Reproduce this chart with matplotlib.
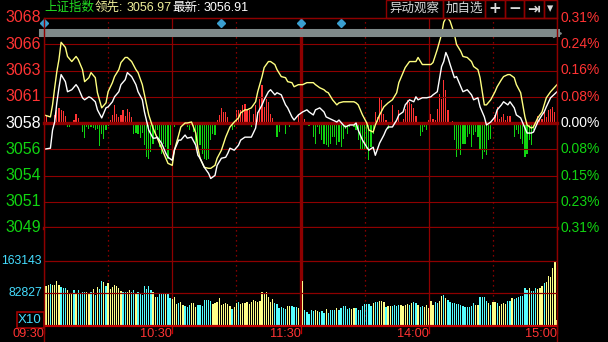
import matplotlib
matplotlib.use('Agg')
import matplotlib.pyplot as plt
from matplotlib.lines import Line2D
from matplotlib.patches import Rectangle

plt.rcParams['font.family'] = ['Liberation Sans', 'Noto Sans CJK SC', 'DejaVu Sans']

# ---- data (minutes after 09:30, 11:30 and 13:00 share minute 120) ----
minutes = [0, 3, 4, 5, 6, 7, 8, 10, 11, 13, 15, 16, 18, 19, 21, 22, 24, 25, 27, 29,
           30, 32, 33, 35, 36, 38, 39, 41, 43, 44, 46, 47, 49, 51, 52, 53, 55, 57, 58, 60,
           61, 63, 64, 66, 67, 69, 71, 72, 73, 75, 77, 78, 80, 81, 83, 85, 86, 87, 89, 91,
           92, 94, 95, 97, 99, 100, 102, 103, 105, 106, 108, 109, 111, 113, 114, 116, 117, 119,
           121, 123, 124, 126, 127, 129, 131, 132, 133, 135, 137, 138, 140, 141, 143, 145, 146,
           147, 149, 151, 152, 154, 155, 157, 159, 160, 161, 163, 165, 166, 168, 169, 171, 173,
           174, 175, 177, 179, 181, 182, 184, 186, 187, 188, 189, 190, 192, 193, 195, 196, 198,
           200, 201, 203, 204, 206, 207, 209, 211, 212, 214, 215, 217, 218, 220, 221, 223, 225,
           226, 228, 229, 231, 233, 234, 235, 237, 240]

price = [3056.13, 3056.22, 3057.86, 3058.59, 3060.32, 3061.69, 3062.88, 3062.24, 3061.33, 3061.51,
         3061.97, 3061.69, 3060.78, 3060.60, 3060.87, 3060.78, 3060.42, 3059.69, 3058.96, 3059.87,
         3059.96, 3060.42, 3060.87, 3061.33, 3061.97, 3062.42, 3063.06, 3062.70, 3061.97, 3061.33,
         3060.60, 3059.50, 3057.86, 3057.13, 3057.13, 3057.22, 3056.68, 3055.76, 3055.40, 3055.13,
         3056.04, 3056.95, 3056.95, 3057.41, 3057.13, 3057.22, 3056.49, 3055.58, 3055.31, 3054.49,
         3053.94, 3053.48, 3053.76, 3054.67, 3055.31, 3055.40, 3055.76, 3056.22, 3056.04, 3056.49,
         3056.95, 3057.22, 3057.22, 3057.22, 3058.04, 3059.41, 3060.14, 3060.60, 3061.33, 3061.51,
         3061.05, 3061.24, 3061.05, 3060.14, 3059.87, 3059.05, 3058.77, 3059.23,
         3059.50, 3059.69, 3059.50, 3059.23, 3059.69, 3059.87, 3059.50, 3059.05, 3058.96, 3058.77,
         3058.59, 3058.77, 3058.32, 3058.14, 3058.32, 3058.32, 3058.50, 3057.86, 3056.95, 3056.31,
         3056.04, 3056.31, 3055.58, 3056.68, 3057.41, 3057.86, 3058.14, 3058.14, 3058.77, 3059.23,
         3059.50, 3060.14, 3060.60, 3060.42, 3060.87, 3060.60, 3060.78, 3060.78, 3060.87, 3061.05,
         3061.33, 3063.61, 3064.06, 3064.88, 3064.43, 3063.79, 3062.60, 3062.70, 3061.78, 3061.33,
         3061.51, 3061.05, 3060.60, 3060.78, 3059.96, 3059.05, 3058.32, 3058.59, 3059.05, 3059.69,
         3060.14, 3060.42, 3060.14, 3060.42, 3059.87, 3059.23, 3058.96, 3058.04, 3057.59, 3057.59,
         3057.68, 3058.59, 3059.23, 3059.50, 3059.96, 3060.78, 3061.33]

leading = [3059.23, 3059.05, 3060.14, 3061.69, 3063.15, 3064.25, 3065.80, 3065.34, 3064.52, 3064.06,
           3064.52, 3064.25, 3063.33, 3062.24, 3062.60, 3063.06, 3062.60, 3061.24, 3059.87, 3060.32,
           3061.33, 3062.15, 3062.70, 3063.33, 3063.97, 3064.43, 3064.43, 3064.06, 3063.33, 3063.06,
           3061.97, 3061.05, 3059.23, 3058.04, 3057.59, 3057.13, 3056.22, 3055.31, 3054.85, 3054.67,
           3056.04, 3057.41, 3058.14, 3058.50, 3058.50, 3058.59, 3057.59, 3056.22, 3055.31, 3054.49,
           3054.40, 3054.40, 3054.67, 3055.31, 3056.04, 3057.22, 3057.68, 3058.14, 3058.59, 3058.96,
           3059.41, 3059.69, 3059.69, 3059.87, 3060.42, 3061.33, 3062.70, 3063.52, 3064.06, 3064.06,
           3063.79, 3063.33, 3062.70, 3062.60, 3062.24, 3062.15, 3061.78, 3061.97,
           3061.97, 3062.15, 3062.15, 3062.15, 3061.97, 3061.69, 3061.51, 3061.33, 3061.24, 3060.60,
           3060.14, 3060.32, 3060.42, 3060.42, 3060.42, 3060.42, 3060.32, 3060.14, 3059.23, 3058.50,
           3057.86, 3057.68, 3058.32, 3059.23, 3059.96, 3060.14, 3060.32, 3060.60, 3061.24, 3062.15,
           3063.06, 3063.52, 3064.06, 3064.06, 3064.06, 3064.43, 3063.79, 3063.79, 3063.79, 3063.97,
           3065.16, 3066.53, 3067.62, 3067.98, 3067.98, 3067.71, 3066.53, 3065.61, 3064.98, 3064.52,
           3064.43, 3064.06, 3063.61, 3063.33, 3062.60, 3060.14, 3060.14, 3060.60, 3061.33, 3061.78,
           3062.42, 3062.70, 3062.88, 3062.88, 3062.60, 3061.97, 3061.24, 3059.05, 3058.32, 3058.04,
           3058.14, 3058.96, 3059.50, 3060.14, 3060.78, 3061.33, 3061.97]

# buying/selling strength bars, one per minute (0..240)
strength = [12, 7, 0, 0, 0, 8, 13, 15, 13, 12,
            7, -4, -4, 0, 3, 9, 5, -2, -9, -15,
            -4, -6, -4, -5, -7, -6, -23, -11, -16, -7,
            -3, 3, 8, 18, 9, 6, 8, 13, 7, 14,
            11, 6, -11, -10, -11, -15, -10, -22, -34, -36,
            -29, -21, -11, -7, -24, -31, -21, -24, -36, -22,
            -11, -4, 0, -2, 0, 0, 0, -4, -7, 0,
            -9, -21, -27, -22, -31, -36, -37, -36, -17, -11,
            -12, 3, 8, 15, 11, 11, 6, 1, -7, -4,
            13, 13, 13, 18, 19, 13, 13, -4, 9, 18,
            11, 24, 38, 16, 24, 21, 9, 5, 0, -14,
            -9, 0, 1, -11, 0, -4, 1, -2, 0, 9,
            14, 13, 4, 0, -3, 0, -14, -21, -4, -11,
            -17, -21, -22, -24, -21, -14, -14, -22, -19, -24,
            -16, -6, -11, -4, -1, -4, -7, -17, -26, -26,
            -26, -27, -37, -24, -11, 11, 6, 26, 23, 9,
            3, -6, 0, 18, 0, 3, 13, 0, 4, 14,
            23, 21, 19, 15, 7, 0, -13, -9, -4, -7,
            3, 9, 4, 3, 14, 29, 24, 43, 33, 13,
            1, 2, -17, -34, -27, -32, -21, -21, -14, -11,
            -24, -12, -9, -14, -26, -36, -29, -32, -17, -16,
            -2, 8, 16, 4, 6, 9, 3, 7, 7, 0,
            -14, -7, -11, -16, -21, -34, -31, -17, -22, -7,
            0, 7, 4, 4, 11, 6, 13, 14, 16, 11, 0]

# volume per minute (thousands, axis labels are x10)
volume = [250.0,
          100.4, 102.9, 105.4, 102.9, 102.9, 113.0, 102.9, 97.1, 94.6, 94.6,
          90.4, 83.7, 83.7, 90.4, 83.7, 90.4, 82.0, 85.3, 85.3, 85.3,
          80.3, 85.3, 93.7, 77.8, 97.1, 92.0, 113.0, 110.4, 100.4, 107.1,
          92.0, 97.1, 102.1, 100.4, 94.6, 88.7, 86.2, 86.2, 85.3, 90.4,
          86.2, 90.4, 82.0, 86.2, 83.7, 77.8, 100.4, 92.0, 100.4, 90.4,
          86.2, 73.6, 73.6, 80.3, 83.7, 83.7, 80.3, 80.3, 69.5, 66.9,
          73.6, 55.2, 58.6, 61.1, 52.7, 50.2, 46.9, 52.7, 58.6, 58.6,
          46.9, 52.7,
          52.7, 50.2, 65.3, 65.3, 65.3, 62.8, 55.2, 58.6, 61.1, 70.3,
          52.7, 55.2, 56.9, 55.2, 50.2, 42.7, 46.9, 58.6, 61.1, 55.2,
          56.9, 58.6, 61.1, 55.2, 60.2, 65.3, 63.6, 61.1, 63.6, 85.3,
          83.7, 85.3, 72.0, 61.1, 66.9, 58.6, 55.2, 44.4, 46.9, 44.4,
          41.8, 50.2, 50.2, 50.2, 46.9, 46.9, 44.4,
          0.0,
          113.0, 40.2, 36.0, 30.1, 40.2, 38.5, 40.2, 38.5, 36.0, 37.7,
          33.5, 41.8, 33.5, 40.2, 40.2, 40.2, 44.4, 40.2, 44.4, 50.2,
          50.2, 41.8, 44.4, 41.8, 44.4, 44.4, 40.2, 40.2, 50.2, 55.2,
          55.2, 55.2, 50.2, 58.6, 61.1, 61.1, 63.6, 63.6, 61.1, 48.5,
          50.2, 50.2, 50.2, 52.7, 50.2, 52.7,
          52.7, 50.2, 52.7, 55.2, 52.7, 58.6, 61.1, 58.6, 52.7, 46.9,
          50.2, 48.5, 52.7, 45.2, 63.6, 52.7, 61.1, 58.6, 63.6, 75.3,
          77.8, 70.3, 65.3, 61.1, 58.6, 58.6, 55.2, 55.2, 52.7, 50.2,
          46.9, 46.9, 46.9, 50.2, 58.6, 52.7, 52.7, 73.6, 73.6, 73.6,
          63.6, 56.9, 52.7, 61.1, 61.1, 58.6, 50.2, 55.2, 58.6, 55.2,
          63.6, 63.6, 70.3, 66.9, 70.3, 73.6, 75.3, 75.3, 94.6, 90.4,
          94.6, 88.7, 88.7, 94.6, 92.0, 94.6, 100.4, 108.8, 111.3, 125.5,
          123.8, 144.8, 163.2, 15.1]

# W = opening auction, Y / C = the two tick directions, - = no trade
vol_dir = ('W'
           'YYCYYYYCCC' 'YYYCYCCCCY' 'YCYCYCCYCY' 'YYYYYYCCYY' 'CCYCCCCCCC'
           'YYCCCCYCCY' 'YYCYYCCCYY' 'YC'
           'CCCCCCYYYY' 'YYYYYCYYCY' 'YYYYYYYYYY' 'YYYYYCCCCC' 'CYYCCCY'
           '-'
           'YCCCCCYYCC' 'CYCCCCYCCC' 'CCCYYCCCCC' 'CCCYCCYYYC' 'YYCCCC'
           'YYYYCYCCYC' 'CYYYYYCCYY' 'CYCCCCCCCC' 'CCCCCYYCCC' 'CYCYYCYYYY'
           'CCYCCCCCCC' 'YCCCYYYCYY' 'YYYY')

price_ticks = [3068.0, 3065.63, 3063.25, 3060.88, 3058.5, 3056.12, 3053.75, 3051.38, 3049.0]
price_labels = ['3068', '3066', '3063', '3061', '3058', '3056', '3054', '3051', '3049']
pct_labels = ['0.31%', '0.24%', '0.16%', '0.08%', '0.00%', '0.08%', '0.15%', '0.23%', '0.31%']
vol_ticks = [163.143, 82.827]
vol_labels = ['163143', '82827']
event_minutes = [0, 83, 120, 139]
time_ticks = [0, 60, 120, 180, 240]
time_labels = ['09:30', '10:30', '11:30', '14:00', '15:00']
half_hours = [30, 90, 150, 210]

RED = '#FF3333'
GREEN = '#11D411'
GRID = '#8E0000'
CYAN = '#44DDFF'

W, H = 608, 342
fig = plt.figure(figsize=(W / 100, H / 100), dpi=100, facecolor='black')


def fx(px):
    return px / W


def fy(py):
    return 1 - py / H


L, R = fx(44), fx(557)
price_rect = [L, fy(228), R - L, (228 - 18) / H]
vol_rect = [L, fy(326), R - L, (326 - 228) / H]

# strength bars (bottom layer)
axb = fig.add_axes(price_rect)
axb.set_facecolor('black')
bar_colors = [RED if v > 0 else GREEN for v in strength]
axb.bar(range(len(strength)), strength, width=0.55, color=bar_colors, linewidth=0)
axb.set_xlim(0, 240)
axb.set_ylim(-105, 105)
axb.axis('off')

# price panel
ax = fig.add_axes(price_rect)
ax.set_facecolor('none')
ax.set_xlim(0, 240)
ax.set_ylim(price_ticks[-1], price_ticks[0])
for i, t in enumerate(price_ticks):
    lw = 2.4 if i in (4, 8) else 0.8
    ax.axhline(t, color=GRID, lw=lw, zorder=1, clip_on=False)
for t in time_ticks:
    ax.axvline(t, color=GRID, lw=2.4 if t == 120 else 0.9, zorder=1)
for t in half_hours:
    ax.axvline(t, color='#B00000', lw=0.9, linestyle=(0, (1, 3)), zorder=1)
ax.plot(minutes, leading, color='#FFFF80', lw=1.0, zorder=3)
ax.plot(minutes, price, color='white', lw=1.0, zorder=4)
for s in ax.spines.values():
    s.set_visible(False)
ax.set_xticks([])
ax.set_yticks([])

ytr = ax.get_yaxis_transform()
for i, (t, lab, pct) in enumerate(zip(price_ticks, price_labels, pct_labels)):
    c = RED if i < 4 else ('white' if i == 4 else GREEN)
    ax.text(-0.005, t, lab, transform=ytr, ha='right', va='center', color=c, fontsize=11.5)
    ax.text(1.006, t, pct, transform=ytr, ha='left', va='center', color=c, fontsize=10)

# event markers and time slider at the top of the panel
xtr = ax.get_xaxis_transform()
ax.plot(event_minutes, [0.975] * len(event_minutes), 'D', transform=xtr, color='#3A9FD0',
        markersize=4.5, clip_on=False, zorder=5)
fig.add_artist(Line2D([fx(43), fx(556)], [fy(33.3), fy(33.3)], color='#7F8A8A', lw=5.8))
fig.add_artist(Line2D([fx(557)], [fy(33.3)], marker='>', color='#7F8A8A', markersize=5.5, lw=0))
fig.add_artist(Line2D([fx(43)], [fy(33.3)], marker='<', color='#7F8A8A', markersize=4, lw=0))

# volume panel
axv = fig.add_axes(vol_rect)
axv.set_facecolor('black')
axv.set_xlim(0, 240)
axv.set_ylim(0, 246)
vcol = {'W': 'white', 'Y': '#FFFF88', 'C': '#55FFFF', '-': 'black'}
axv.bar(range(len(volume)), volume, width=0.6, color=[vcol[d] for d in vol_dir], linewidth=0)
for t in vol_ticks:
    axv.axhline(t, color=GRID, lw=0.9, zorder=1)
axv.axhline(0, color='#C00000', lw=1.6, clip_on=False)
for t in time_ticks:
    axv.axvline(t, color=GRID, lw=2.4 if t == 120 else 0.9, zorder=0)
for t in half_hours:
    axv.axvline(t, color='#B00000', lw=0.9, linestyle=(0, (1, 3)), zorder=0)
for s in axv.spines.values():
    s.set_visible(False)
axv.set_xticks([])
axv.set_yticks([])
vtr = axv.get_yaxis_transform()
for t, lab in zip(vol_ticks, vol_labels):
    axv.text(-0.004, t, lab, transform=vtr, ha='right', va='center', color=CYAN, fontsize=8.8)
axv.text(-0.004, 0, 'X10', transform=vtr, ha='right', va='bottom', color=CYAN, fontsize=9.5,
         bbox=dict(boxstyle='square,pad=0.12', fc='black', ec='#A00000', lw=1.2))
vxtr = axv.get_xaxis_transform()
for t, lab in zip(time_ticks, time_labels):
    axv.plot([t, t], [0, -0.07], transform=vxtr, color='#C00000', lw=0.9, clip_on=False)
    axv.text(t, -0.085, lab, transform=vxtr, ha='right', va='center', color=RED, fontsize=9.2)

# panel borders
fig.add_artist(Line2D([L, L], [fy(18), 0], color=GRID, lw=1.0))
fig.add_artist(Line2D([R, R], [fy(0), 0], color=GRID, lw=1.0))
fig.add_artist(Line2D([L, R], [fy(17.5), fy(17.5)], color=GRID, lw=1.0))

# header
fig.text(fx(44), fy(8), '上证指数', color='#22DD22', fontsize=9, va='center')
fig.text(fx(95), fy(8), '领先:', color='#EEEE99', fontsize=9, va='center')
fig.text(fx(127), fy(8), '3056.97', color='#EEEE99', fontsize=9, va='center')
fig.text(fx(172), fy(8), '最新:', color='white', fontsize=9, va='center')
fig.text(fx(204), fy(8), '3056.91', color='white', fontsize=9, va='center')

buttons = [(386, 443, '异动观察'), (443, 485, '加自选'), (485, 505, '+'),
           (505, 524, '\u2212'), (524, 544, '\u21e5'), (544, 557, '\u25be')]
for x0, x1, lab in buttons:
    fig.add_artist(Rectangle((fx(x0), fy(17.5)), fx(x1 - x0), 17.5 / H, transform=fig.transFigure,
                             fill=False, ec=GRID, lw=1.0))
    big = lab in ('+', '\u2212', '\u21e5')
    fig.text(fx((x0 + x1) / 2), fy(8.5), lab, color='#D8D8D8', ha='center', va='center',
             fontsize=11 if big else 9, fontweight='bold' if big else 'normal',
             family=['DejaVu Sans'] if big or lab == '\u25be' else None)

fig.savefig('out.png', dpi=100, facecolor='black')
